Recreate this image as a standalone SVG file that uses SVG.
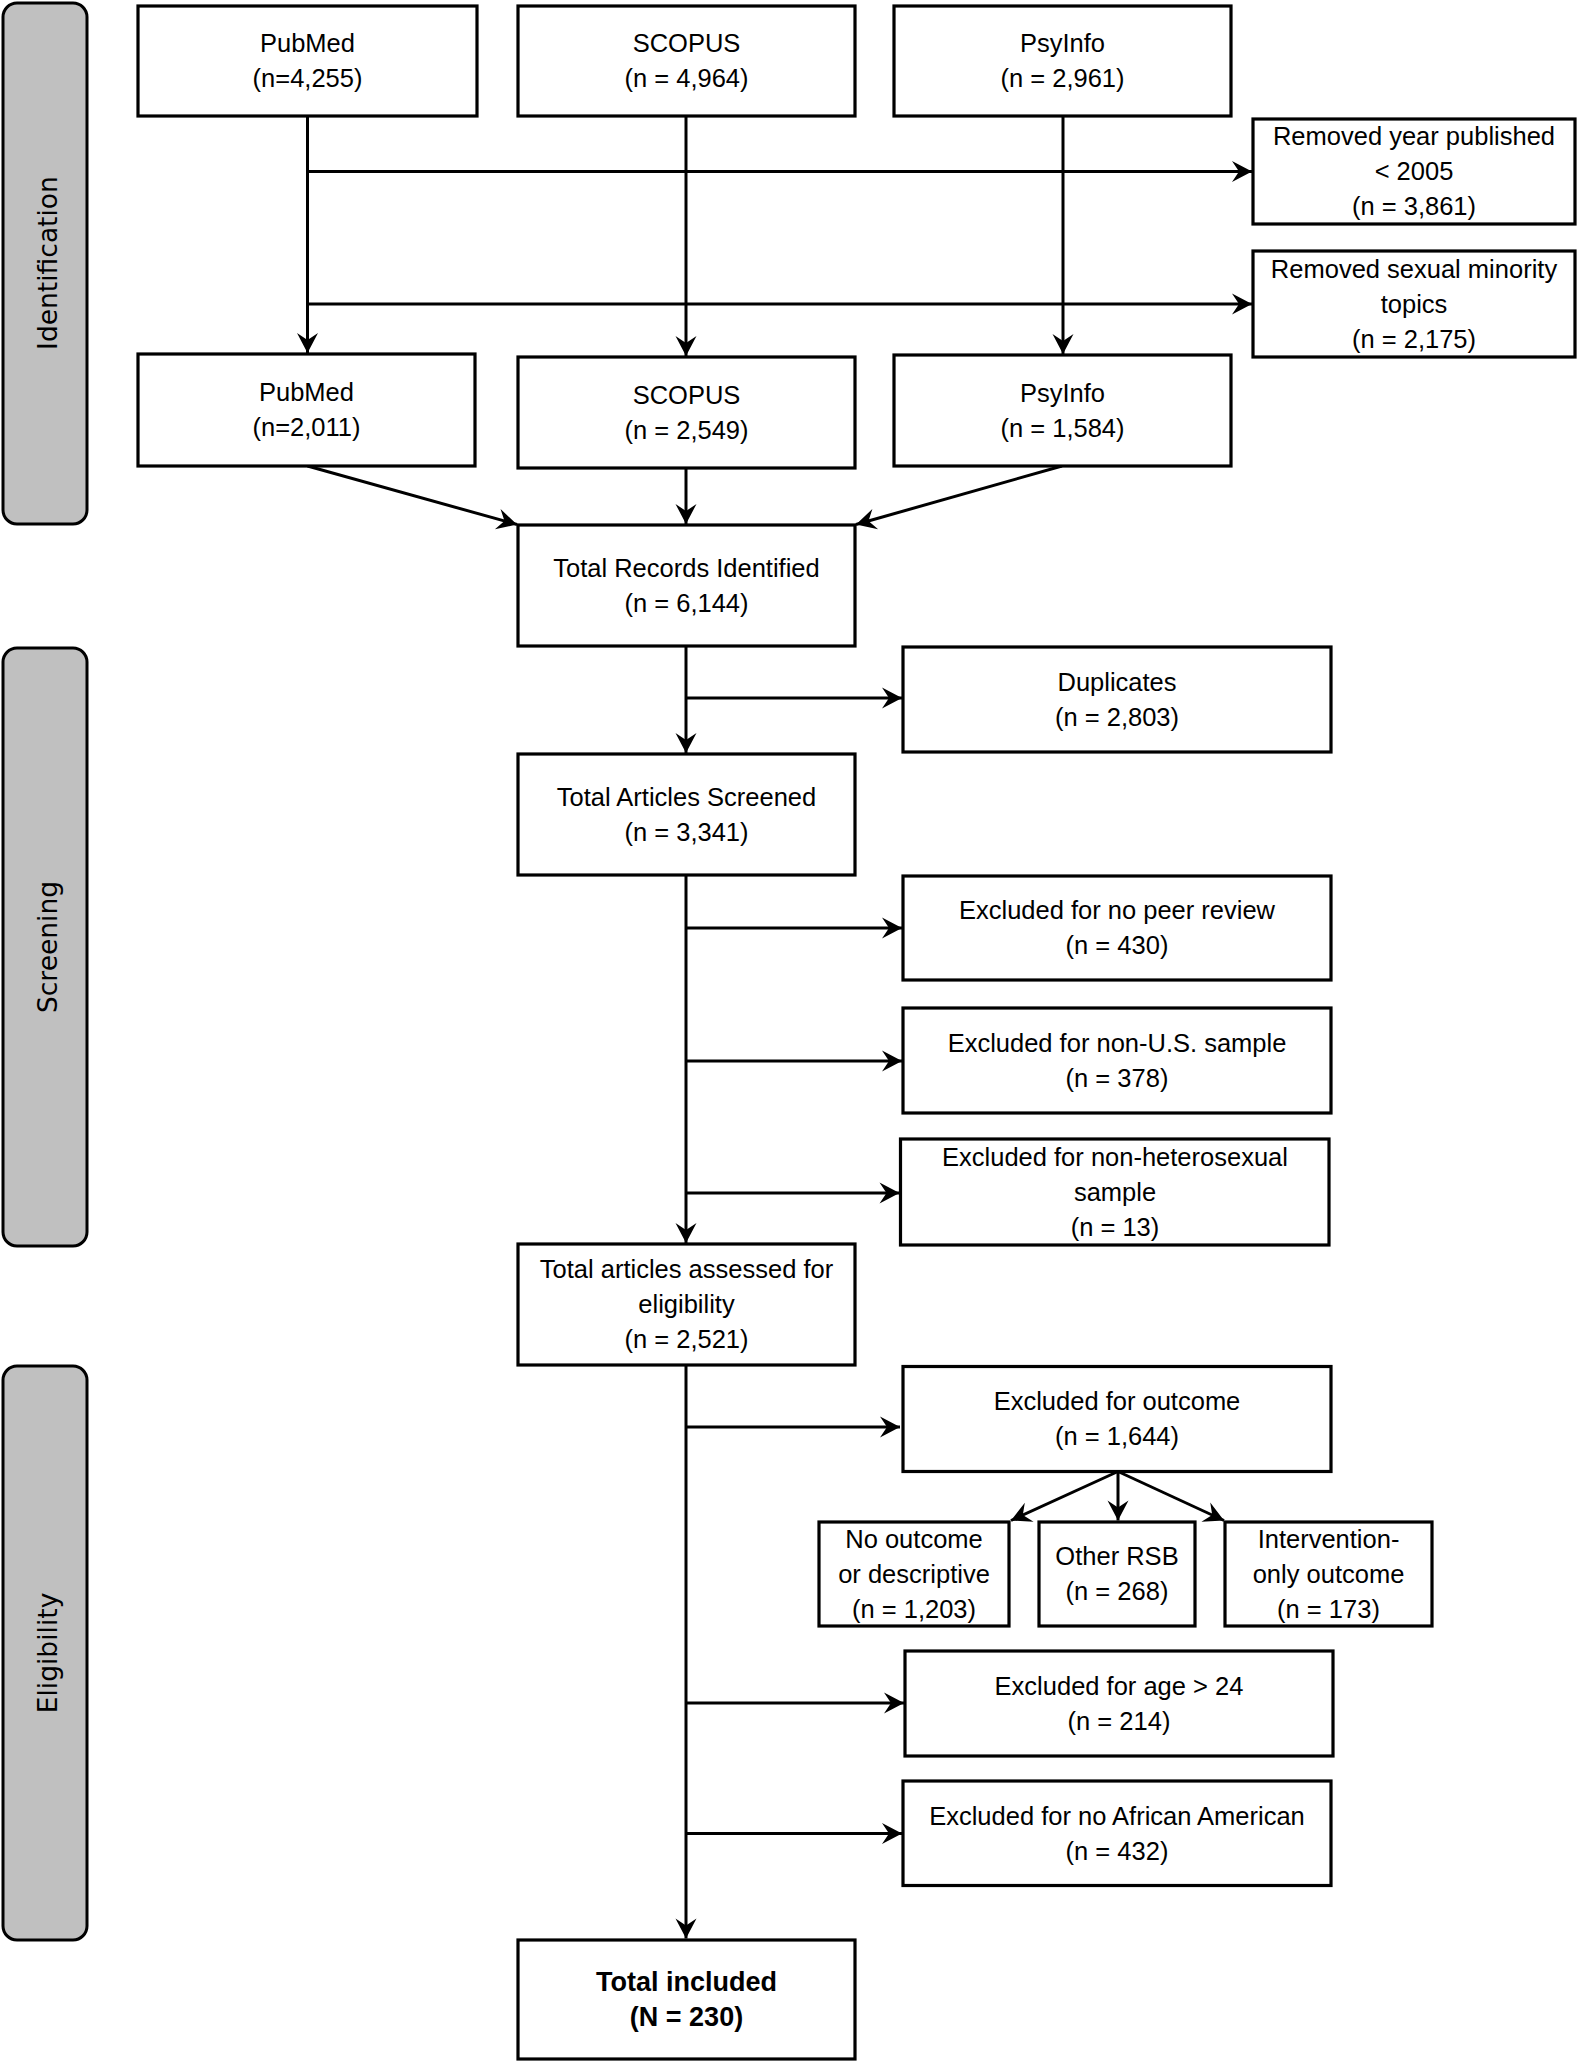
<svg xmlns="http://www.w3.org/2000/svg" width="1577" height="2062" viewBox="0 0 1577 2062">
<defs>
<style>
.side{fill:#c0c0c0;stroke:#000;stroke-width:3}
.box{fill:#fff;stroke:#000;stroke-width:3.2}
.side-t{font-family:"DejaVu Sans",sans-serif;font-size:26.5px;fill:#000;text-anchor:middle}
.t{font-family:"Liberation Sans",Arial,sans-serif;font-size:25.5px;fill:#000;text-anchor:middle}
.b{font-weight:bold;font-size:27px}
.c{fill:none;stroke:#000;stroke-width:3}
</style>
<marker id="ah" markerUnits="userSpaceOnUse" markerWidth="26" markerHeight="26" viewBox="-22 -13 26 26" refX="0" refY="0" orient="auto">
<path d="M0,0 L-20,-10.5 L-13,0 L-20,10.5 Z" fill="#000"/>
</marker>
</defs>
<rect width="1577" height="2062" fill="#fff"/>

<g id="sidebar-identification">
<rect class="side" x="3" y="3" width="84" height="521" rx="14"/>
<text class="side-t" transform="translate(57,263) rotate(-90)">Identification</text>
</g>
<g id="sidebar-screening">
<rect class="side" x="3" y="648" width="84" height="598" rx="14"/>
<text class="side-t" transform="translate(57,947) rotate(-90)">Screening</text>
</g>
<g id="sidebar-eligibility">
<rect class="side" x="3" y="1366" width="84" height="574" rx="14"/>
<text class="side-t" transform="translate(57,1653) rotate(-90)">Eligibility</text>
</g>

<g id="connectors">
<line class="c" x1="307.5" y1="116" x2="307.5" y2="353" marker-end="url(#ah)"/>
<line class="c" x1="686" y1="116" x2="686" y2="356" marker-end="url(#ah)"/>
<line class="c" x1="1063" y1="116" x2="1063" y2="354" marker-end="url(#ah)"/>
<line class="c" x1="307.5" y1="171.5" x2="1252" y2="171.5" marker-end="url(#ah)"/>
<line class="c" x1="307.5" y1="304" x2="1252" y2="304" marker-end="url(#ah)"/>
<line class="c" x1="307.5" y1="466" x2="517" y2="524.5" marker-end="url(#ah)"/>
<line class="c" x1="686" y1="468" x2="686" y2="524" marker-end="url(#ah)"/>
<line class="c" x1="1062" y1="466" x2="856" y2="524.5" marker-end="url(#ah)"/>
<line class="c" x1="686" y1="646" x2="686" y2="753" marker-end="url(#ah)"/>
<line class="c" x1="686" y1="698" x2="902" y2="698" marker-end="url(#ah)"/>
<line class="c" x1="686" y1="875" x2="686" y2="1243" marker-end="url(#ah)"/>
<line class="c" x1="686" y1="928" x2="902" y2="928" marker-end="url(#ah)"/>
<line class="c" x1="686" y1="1061" x2="902" y2="1061" marker-end="url(#ah)"/>
<line class="c" x1="686" y1="1193" x2="899.5" y2="1193" marker-end="url(#ah)"/>
<line class="c" x1="686" y1="1365" x2="686" y2="1938.5" marker-end="url(#ah)"/>
<line class="c" x1="686" y1="1427" x2="900" y2="1427" marker-end="url(#ah)"/>
<line class="c" x1="686" y1="1703" x2="904" y2="1703" marker-end="url(#ah)"/>
<line class="c" x1="686" y1="1833.5" x2="902" y2="1833.5" marker-end="url(#ah)"/>
<line class="c" x1="1118" y1="1471.5" x2="1011" y2="1520.5" marker-end="url(#ah)"/>
<line class="c" x1="1118" y1="1471.5" x2="1118" y2="1520.5" marker-end="url(#ah)"/>
<line class="c" x1="1118" y1="1471.5" x2="1224" y2="1520.5" marker-end="url(#ah)"/>
</g>

<g id="pubmed1">
<rect class="box" x="138" y="6" width="339" height="110"/>
<text class="t" x="307.5" y="52">PubMed</text>
<text class="t" x="307.5" y="87">(n=4,255)</text>
</g>
<g id="scopus1">
<rect class="box" x="518" y="6" width="337" height="110"/>
<text class="t" x="686.5" y="52">SCOPUS</text>
<text class="t" x="686.5" y="87">(n = 4,964)</text>
</g>
<g id="psyinfo1">
<rect class="box" x="894" y="6" width="337" height="110"/>
<text class="t" x="1062.5" y="52">PsyInfo</text>
<text class="t" x="1062.5" y="87">(n = 2,961)</text>
</g>
<g id="removed-year">
<rect class="box" x="1253" y="119" width="322" height="105"/>
<text class="t" x="1414" y="145">Removed year published</text>
<text class="t" x="1414" y="180">&lt; 2005</text>
<text class="t" x="1414" y="215">(n = 3,861)</text>
</g>
<g id="removed-sexual-minority">
<rect class="box" x="1253" y="251" width="322" height="106"/>
<text class="t" x="1414" y="277.5">Removed sexual minority</text>
<text class="t" x="1414" y="312.5">topics</text>
<text class="t" x="1414" y="347.5">(n = 2,175)</text>
</g>
<g id="pubmed2">
<rect class="box" x="138" y="354" width="337" height="112"/>
<text class="t" x="306.5" y="401">PubMed</text>
<text class="t" x="306.5" y="436">(n=2,011)</text>
</g>
<g id="scopus2">
<rect class="box" x="518" y="357" width="337" height="111"/>
<text class="t" x="686.5" y="403.5">SCOPUS</text>
<text class="t" x="686.5" y="438.5">(n = 2,549)</text>
</g>
<g id="psyinfo2">
<rect class="box" x="894" y="355" width="337" height="111"/>
<text class="t" x="1062.5" y="401.5">PsyInfo</text>
<text class="t" x="1062.5" y="436.5">(n = 1,584)</text>
</g>
<g id="total-records">
<rect class="box" x="518" y="525" width="337" height="121"/>
<text class="t" x="686.5" y="576.5">Total Records Identified</text>
<text class="t" x="686.5" y="611.5">(n = 6,144)</text>
</g>
<g id="duplicates">
<rect class="box" x="903" y="647" width="428" height="105"/>
<text class="t" x="1117" y="690.5">Duplicates</text>
<text class="t" x="1117" y="725.5">(n = 2,803)</text>
</g>
<g id="total-screened">
<rect class="box" x="518" y="754" width="337" height="121"/>
<text class="t" x="686.5" y="805.5">Total Articles Screened</text>
<text class="t" x="686.5" y="840.5">(n = 3,341)</text>
</g>
<g id="no-peer-review">
<rect class="box" x="903" y="876" width="428" height="104"/>
<text class="t" x="1117" y="919">Excluded for no peer review</text>
<text class="t" x="1117" y="954">(n = 430)</text>
</g>
<g id="non-us">
<rect class="box" x="903" y="1008" width="428" height="105"/>
<text class="t" x="1117" y="1052">Excluded for non-U.S. sample</text>
<text class="t" x="1117" y="1087">(n = 378)</text>
</g>
<g id="non-hetero">
<rect class="box" x="900.5" y="1139" width="428.5" height="106"/>
<text class="t" x="1115" y="1166">Excluded for non-heterosexual</text>
<text class="t" x="1115" y="1201">sample</text>
<text class="t" x="1115" y="1236">(n = 13)</text>
</g>
<g id="total-assessed">
<rect class="box" x="518" y="1244" width="337" height="121"/>
<text class="t" x="686.5" y="1278">Total articles assessed for</text>
<text class="t" x="686.5" y="1313">eligibility</text>
<text class="t" x="686.5" y="1348">(n = 2,521)</text>
</g>
<g id="excluded-outcome">
<rect class="box" x="903" y="1366.5" width="428" height="105"/>
<text class="t" x="1117" y="1410">Excluded for outcome</text>
<text class="t" x="1117" y="1445">(n = 1,644)</text>
</g>
<g id="no-outcome">
<rect class="box" x="819" y="1522" width="190" height="104"/>
<text class="t" x="914" y="1548">No outcome</text>
<text class="t" x="914" y="1583">or descriptive</text>
<text class="t" x="914" y="1618">(n = 1,203)</text>
</g>
<g id="other-rsb">
<rect class="box" x="1039" y="1522" width="156" height="104"/>
<text class="t" x="1117" y="1565">Other RSB</text>
<text class="t" x="1117" y="1600">(n = 268)</text>
</g>
<g id="intervention-only">
<rect class="box" x="1225" y="1522" width="207" height="104"/>
<text class="t" x="1328.5" y="1548">Intervention-</text>
<text class="t" x="1328.5" y="1583">only outcome</text>
<text class="t" x="1328.5" y="1618">(n = 173)</text>
</g>
<g id="age">
<rect class="box" x="905" y="1651" width="428" height="105"/>
<text class="t" x="1119" y="1694.5">Excluded for age &gt; 24</text>
<text class="t" x="1119" y="1729.5">(n = 214)</text>
</g>
<g id="african-american">
<rect class="box" x="903" y="1781" width="428" height="104.5"/>
<text class="t" x="1117" y="1824.5">Excluded for no African American</text>
<text class="t" x="1117" y="1859.5">(n = 432)</text>
</g>
<g id="total-included">
<rect class="box" x="518" y="1940" width="337" height="119"/>
<text class="t b" x="686.5" y="1990.5">Total included</text>
<text class="t b" x="686.5" y="2026">(N = 230)</text>
</g>
</svg>
